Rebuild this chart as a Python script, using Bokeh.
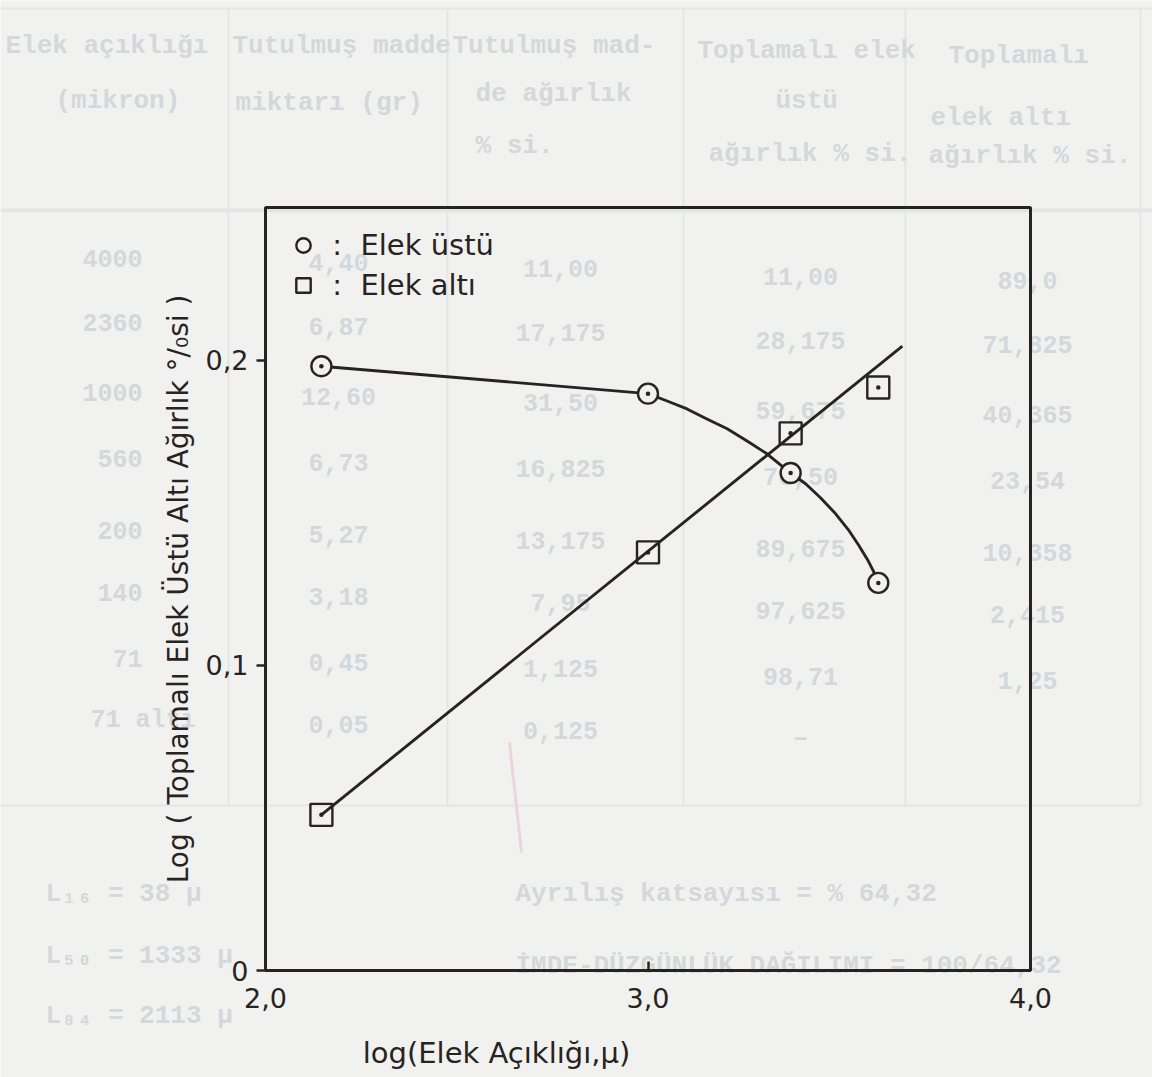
import numpy as np
from bokeh.plotting import figure
from bokeh.layouts import column
from bokeh.models import Range1d, FixedTicker, Legend, LegendItem
from bokeh.core.properties import value
from bokeh.embed import file_html
from bokeh.resources import INLINE

# ---- plotted data -------------------------------------------------------
# sieve openings (micron) of the plotted points; x axis is their log10
sieve_um = [140, 1000, 2360, 4000]
log_sieve = np.log10(sieve_um)

ustu_y = [0.198, 0.189, 0.163, 0.127]   # Elek üstü (retained)
alti_y = [0.051, 0.137, 0.176, 0.191]   # Elek altı (passing)

# hand-drawn curve through the "üstü" points
ustu_curve_x = [2.146, 3.000, 3.050, 3.102, 3.154, 3.207, 3.259, 3.311, 3.373,
                3.412, 3.451, 3.490, 3.524, 3.550, 3.574, 3.590, 3.602]
ustu_curve_y = [0.198, 0.189, 0.1866, 0.1840, 0.1807, 0.1775, 0.1735, 0.1693, 0.163,
                0.1595, 0.1549, 0.1497, 0.1444, 0.1395, 0.1346, 0.1307, 0.127]

# straight line drawn by eye through the "altı" points
alti_fit_x = [2.146, 3.665]
alti_fit_y = [0.051, 0.2046]

x_ticks = [2, 3, 4]
x_tick_labels = ["2,0", "3,0", "4,0"]
y_ticks = [0, 0.1, 0.2]
y_tick_labels = ["0", "0,1", "0,2"]
x_title = "log(Elek Açıklığı,μ)"
y_title = "Log ( Toplamalı Elek Üstü Altı Ağırlık °/₀si )"

# ---- sieve analysis table printed on the page behind the chart ----------
header_cells = [
    "Elek açıklığı", "(mikron)",
    "Tutulmuş madde", "miktarı (gr)",
    "Tutulmuş mad-", "de ağırlık", "% si.",
    "Toplamalı elek", "üstü", "ağırlık % si.",
    "Toplamalı", "elek altı", "ağırlık % si.",
]
sieve_col = ["4000", "2360", "1000", "560", "200", "140", "71", "71 altı"]
retained_g = ["4,40", "6,87", "12,60", "6,73", "5,27", "3,18", "0,45", "0,05"]
retained_pct = ["11,00", "17,175", "31,50", "16,825", "13,175", "7,95", "1,125", "0,125"]
cum_over_pct = ["11,00", "28,175", "59,675", "76,50", "89,675", "97,625", "98,71", "–"]
cum_under_pct = ["89,0", "71,825", "40,365", "23,54", "10,358", "2,415", "1,25", ""]
footer_left = ["L₁₆ = 38 μ", "L₅₀ = 1333 μ", "L₈₄ = 2113 μ"]
footer_right = ["Ayrılış katsayısı = % 64,32", "İMDE-DÜZGÜNLÜK DAĞILIMI = 100/64,32"]

# ---- page geometry / styles ---------------------------------------------
W, H = 1152, 1077
FL, FR, FT, FB = 265, 1030, 207, 970          # chart box edges on the page
INK = "#28231f"
PAPER = "#f1f2ef"
FAINT = "#d2d8dc"
FAINT_LINE = "#e1e5e6"
PINK = "#ecd3e2"
SANS = "DejaVu Sans"
MONO = "Liberation Mono"

# ---- page layer: the faint table, in page pixel coordinates --------------
page = figure(width=W, height=H, x_range=Range1d(0, W), y_range=Range1d(H, 0),
              min_border=0, x_axis_type=None, y_axis_type=None,
              output_backend="svg", toolbar_location=None, frame_align=False,
              background_fill_color=PAPER, border_fill_color=PAPER,
              outline_line_color=None)
page.grid.visible = False

thin = dict(x0=[0, 0, 228, 447, 683, 905, 1140], y0=[8, 805, 8, 8, 8, 8, 8],
            x1=[1152, 1140, 228, 447, 683, 905, 1140], y1=[8, 805, 805, 805, 805, 805, 805])
page.segment(**thin, line_color=FAINT_LINE, line_width=2)
page.segment(x0=[0], y0=[210], x1=[1152], y1=[210], line_color=FAINT_LINE, line_width=4)
# stray pink pen stroke on the paper
page.segment(x0=[509], y0=[742], x1=[521], y1=[852], line_color=PINK, line_width=3)


def faint(xs, ys, texts, align="left", size="26px"):
    page.text(x=xs, y=ys, text=texts, text_font=value(MONO), text_font_style="bold",
              text_font_size=value(size), text_color=FAINT, text_align=align,
              text_baseline="middle")


header_x = [5, 55, 232, 235, 452, 475, 475, 697, 775, 708, 948, 930, 928]
header_y = [45, 100, 45, 102, 45, 93, 145, 50, 100, 153, 55, 117, 155]
faint(header_x, header_y, header_cells)

row_y = [258, 322, 392, 458, 530, 592, 658, 720]
faint([142] * 7, row_y[:7], sieve_col[:7], align="right", size="25px")
faint([90], row_y[7:], sieve_col[7:], align="left", size="25px")
columns = [
    (retained_g, 338, 4),
    (retained_pct, 560, 10),
    (cum_over_pct, 800, 18),
    (cum_under_pct, 1027, 22),
]
for cells, cx, dy in columns:
    faint([cx] * len(cells), [ry + dy for ry in row_y], cells, align="center", size="25px")

faint([45, 45, 45], [893, 955, 1015], footer_left)
faint([515, 515], [893, 965], footer_right)

# x-axis title, written off-centre under the chart box
page.text(x=[496], y=[1052], text=[x_title], text_font=value(SANS),
          text_font_size=value("29px"), text_color=INK, text_align="center",
          text_baseline="middle")

# ---- chart layer ---------------------------------------------------------
chart = figure(
    frame_width=FR - FL, frame_height=FB - FT,
    min_border_left=FL, min_border_right=W - FR,
    min_border_top=FT, min_border_bottom=H - FB,
    x_range=Range1d(2.0, 4.0), y_range=Range1d(0.0, 0.25),
    output_backend="svg", toolbar_location=None, frame_align=False,
    background_fill_alpha=0, border_fill_alpha=0,
    styles={"position": "absolute", "top": "0px", "left": "0px"},
)
chart.grid.visible = False
chart.outline_line_color = INK
chart.outline_line_width = 3

chart.line(ustu_curve_x, ustu_curve_y, line_color=INK, line_width=2.9, line_join="round")
chart.line(alti_fit_x, alti_fit_y, line_color=INK, line_width=2.9)

r_ustu = chart.scatter(log_sieve, ustu_y, marker="circle", size=20,
                       fill_color=PAPER, line_color=INK, line_width=2.4)
r_alti = chart.scatter(log_sieve, alti_y, marker="square", size=22,
                       fill_color=None, line_color=INK, line_width=2.4)
chart.scatter(log_sieve, ustu_y, marker="circle", size=4.5, fill_color=INK, line_color=None)
chart.scatter(log_sieve, alti_y, marker="circle", size=4.5, fill_color=INK, line_color=None)

legend = Legend(items=[
    LegendItem(label="\u00a0:\u00a0 Elek üstü", renderers=[r_ustu]),
    LegendItem(label="\u00a0:\u00a0 Elek altı", renderers=[r_alti]),
], location="top_left", margin=12, padding=8, spacing=4,
    glyph_width=36, glyph_height=36, label_standoff=2,
    label_text_font=SANS, label_text_font_size="29px", label_text_color=INK,
    background_fill_alpha=0, border_line_alpha=0)
chart.add_layout(legend)

chart.xaxis.ticker = FixedTicker(ticks=x_ticks)
chart.xaxis.major_label_overrides = dict(zip(x_ticks, x_tick_labels))
chart.yaxis.ticker = FixedTicker(ticks=y_ticks)
chart.yaxis.major_label_overrides = dict(zip(y_ticks, y_tick_labels))

for ax in (chart.xaxis, chart.yaxis):
    ax.axis_line_color = INK
    ax.axis_line_width = 3
    ax.major_tick_line_color = INK
    ax.major_tick_line_width = 2.5
    ax.minor_tick_line_color = None
    ax.major_label_text_font = SANS
    ax.major_label_text_font_size = "27px"
    ax.major_label_text_color = INK

chart.xaxis.major_tick_in = 9
chart.xaxis.major_tick_out = 0
chart.xaxis.major_label_standoff = 17
chart.yaxis.major_tick_in = 0
chart.yaxis.major_tick_out = 9
chart.yaxis.major_label_standoff = 8

chart.yaxis.axis_label = y_title
chart.yaxis.axis_label_text_font = SANS
chart.yaxis.axis_label_text_font_size = "28px"
chart.yaxis.axis_label_text_font_style = "normal"
chart.yaxis.axis_label_text_color = INK
chart.yaxis.axis_label_standoff = 8

p = column(page, chart)
open("out.html", "w").write(file_html(p, INLINE))
